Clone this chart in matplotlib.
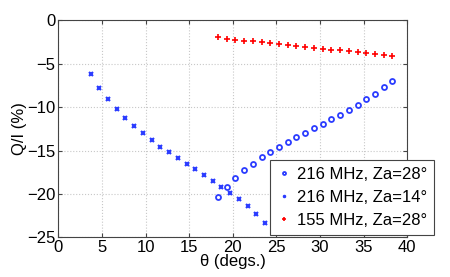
import numpy as np
import matplotlib
matplotlib.use('Agg')
import matplotlib.pyplot as plt

# 216 MHz, Za=28 deg (circles)
theta_216_28 = [18.3, 19.3, 20.3, 21.3, 22.3, 23.3, 24.3, 25.3, 26.3, 27.3, 28.3,
                29.3, 30.3, 31.3, 32.3, 33.3, 34.3, 35.3, 36.3, 37.3, 38.3]
qi_216_28 = [-20.3, -19.2, -18.2, -17.3, -16.55, -15.8, -15.2, -14.6, -14.05, -13.5, -12.95,
             -12.45, -11.9, -11.4, -10.9, -10.3, -9.7, -9.1, -8.45, -7.7, -6.95]

# 216 MHz, Za=14 deg (x markers)
theta_216_14 = [3.7, 4.7, 5.7, 6.7, 7.7, 8.7, 9.7, 10.7, 11.7, 12.7, 13.7, 14.7,
                15.7, 16.7, 17.7, 18.7, 19.7, 20.7, 21.7, 22.7, 23.7]
qi_216_14 = [-6.15, -7.75, -9.05, -10.25, -11.3, -12.2, -13.0, -13.8, -14.55, -15.2, -15.9, -16.55,
             -17.15, -17.85, -18.5, -19.15, -19.85, -20.6, -21.4, -22.3, -23.3]

# 155 MHz, Za=28 deg (plus markers)
theta_155_28 = [18.3, 19.3, 20.3, 21.3, 22.3, 23.3, 24.3, 25.3, 26.3, 27.3, 28.3,
                29.3, 30.3, 31.3, 32.3, 33.3, 34.3, 35.3, 36.3, 37.3, 38.3]
qi_155_28 = [-1.95, -2.1, -2.25, -2.35, -2.42, -2.53, -2.65, -2.77, -2.88, -2.96, -3.08,
             -3.15, -3.3, -3.38, -3.46, -3.54, -3.61, -3.77, -3.88, -3.96, -4.08]

plt.rcParams['font.family'] = ['Liberation Sans', 'DejaVu Sans']
plt.rcParams['font.size'] = 12

fig = plt.figure(figsize=(4.5, 2.77), dpi=100)
ax = fig.add_axes([0.1296, 0.1433, 0.7755, 0.7834])

blue = '#2b3cff'
ax.plot(theta_216_28, qi_216_28, 'o', color=blue, mfc='none', ms=3.6, mew=1.3,
        label='216 MHz, Za=28°')
ax.plot(theta_216_14, qi_216_14, 'x', color=blue, ms=2.8, mew=1.5,
        label='216 MHz, Za=14°')
ax.plot(theta_155_28, qi_155_28, '+', color='red', ms=3.8, mew=1.2,
        label='155 MHz, Za=28°')

ax.set_xlim(0, 40)
ax.set_ylim(-25, 0)
ax.set_xticks(np.arange(0, 41, 5))
ax.set_yticks(np.arange(-25, 1, 5))
ax.grid(True, linestyle=':', color='#c8c8c8', linewidth=0.8)
ax.tick_params(direction='in', length=3, color='#444444', top=True, right=True, pad=2)
for s in ax.spines.values():
    s.set_color('#444444')
    s.set_linewidth(0.8)

ax.set_xlabel('θ (degs.)', labelpad=-1)
ax.set_ylabel('Q/I (%)', labelpad=0)

leg = ax.legend(loc='lower right', bbox_to_anchor=(434 / 450, 1 - 235 / 277),
                bbox_transform=fig.transFigure, fancybox=False, framealpha=1,
                edgecolor='#444444', borderpad=0.4, handlelength=0.9,
                handletextpad=0.35, labelspacing=0.5, borderaxespad=0,
                markerscale=0.6)
leg.get_frame().set_linewidth(0.8)

fig.savefig('out.png', dpi=100)
